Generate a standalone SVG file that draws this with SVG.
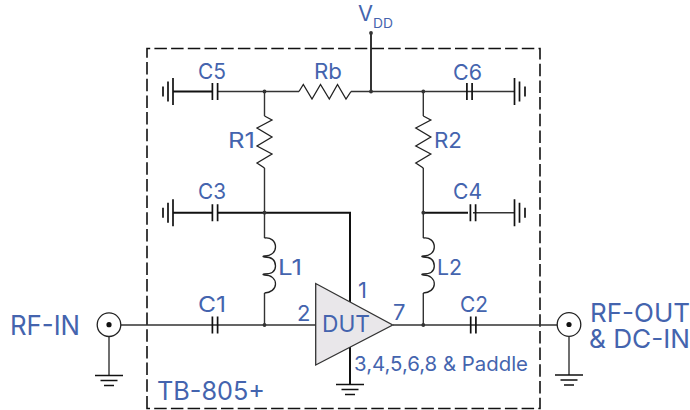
<svg xmlns="http://www.w3.org/2000/svg" width="690" height="410" viewBox="0 0 690 410">
<style>
text{font-family:Inter,"Noto Sans","Liberation Sans",sans-serif;fill:#4464ae;font-size:22px}
.w{fill:none;stroke:#333;stroke-width:1.4}
.t{fill:none;stroke:#111;stroke-width:2}
.z{fill:none;stroke:#222;stroke-width:1.3}
.b{fill:none;stroke:#111;stroke-width:1.700}
.d{fill:#333}
</style>
<defs>
<path id="zig" class="z" d="M0 0L7.500 4L-7.500 12L7.500 21L-7.500 30L7.500 38L-7.500 47L0 52"/>
<path id="coil" class="z" d="M0 0C6 -1 11 3 11 9C11 14 7 18 0 18C-2 18 -2 19 0 19C7 19 11 22 11 28C11 33 7 36 0 36C-2 36 -2 37 0 37C7 37 11 41 11 46C11 51 6 55 0 55"/>
<g id="gndL"><path class="b" d="M0 -13.500V13.500M-5 -10V10M-10 -5V5"/></g>
<g id="gndR"><path class="b" d="M0 -13.500V13.500M5 -10V10M10.500 -5V5"/></g>
<g id="gndD"><path class="b" d="M-14 0H14M-8.500 5H8.500M-5 10H5"/></g>
<path id="cap" class="b" d="M-2.600 -8.500V8.500M2.600 -8.500V8.500"/>
</defs>

<g id="testboard"><path d="M147 408.500V48.500H540V408.500Z" fill="none" stroke="#111" stroke-width="1.600" stroke-dasharray="12.500 4.200"/>
<text x="157" y="400" textLength="108" lengthAdjust="spacingAndGlyphs" style="font-size:25px">TB-805+</text></g>

<g id="connectors">
<path class="t" d="M173 91.500H212M173 212.700H212M217 212.700H350V302M350 347V385"/>
<path class="w" d="M217 91.500H299M351 91.500H515"/>
<path class="t" d="M371 33V91.500" style="stroke-width:1.700"/>
<path class="w" d="M264.500 91.500V116M264.500 168V238M264.500 293V325M423.300 91.500V116M423.300 168V238M423.300 293V325M473 212.700H514"/>
<path class="t" d="M423.300 212.700H468"/>
<path class="w" d="M121 325H316M393 325H557M109 337V375M569 337V375"/>
</g>

<g id="C5"><use href="#gndL" x="173" y="91.500"/><use href="#cap" x="215" y="91.500"/><text x="198" y="79" textLength="28" lengthAdjust="spacingAndGlyphs">C5</text></g>
<g id="C6"><use href="#cap" x="469.500" y="91.500"/><use href="#gndR" x="514.500" y="91.500"/><text x="453" y="80" textLength="29" lengthAdjust="spacingAndGlyphs">C6</text></g>
<g id="C3"><use href="#gndL" x="173" y="212.700"/><use href="#cap" x="215" y="212.700"/><text x="198" y="199" textLength="28" lengthAdjust="spacingAndGlyphs">C3</text></g>
<g id="C4"><use href="#cap" x="473" y="212.700"/><use href="#gndR" x="514.500" y="212.700"/><text x="453" y="199" textLength="29" lengthAdjust="spacingAndGlyphs">C4</text></g>
<g id="C1"><use href="#cap" x="215" y="325"/><text x="198" y="312" textLength="28" lengthAdjust="spacingAndGlyphs">C1</text></g>
<g id="C2"><use href="#cap" x="473.300" y="325"/><text x="460" y="312" textLength="28" lengthAdjust="spacingAndGlyphs">C2</text></g>
<g id="Rb"><path class="z" d="M299 91.500L303.300 84.500L312 99L320.500 84.500L329.300 99L337.500 84.500L346 99L351 91.500"/><text x="314" y="79" textLength="28" lengthAdjust="spacingAndGlyphs">Rb</text></g>
<g id="R1"><use href="#zig" x="264.500" y="116"/><text x="228" y="148" textLength="27" lengthAdjust="spacingAndGlyphs">R1</text></g>
<g id="R2"><use href="#zig" x="423.300" y="116"/><text x="434" y="148" textLength="28" lengthAdjust="spacingAndGlyphs">R2</text></g>
<g id="L1"><use href="#coil" x="264.500" y="238"/><text x="278" y="275" textLength="24" lengthAdjust="spacingAndGlyphs">L1</text></g>
<g id="L2"><use href="#coil" x="423.300" y="238"/><text x="437" y="275" textLength="25" lengthAdjust="spacingAndGlyphs">L2</text></g>
<g id="VDD"><circle class="d" cx="371" cy="33" r="1.900"/><text x="358" y="21" style="font-size:22px" textLength="15" lengthAdjust="spacingAndGlyphs">V</text><text x="373" y="28" style="font-size:13px" textLength="20" lengthAdjust="spacingAndGlyphs">DD</text></g>
<g id="junctions"><circle class="d" cx="264.500" cy="91.500" r="1.900"/><circle class="d" cx="371" cy="91.500" r="1.900"/><circle class="d" cx="423.300" cy="91.500" r="1.900"/><circle class="d" cx="264.500" cy="212.700" r="1.900"/><circle class="d" cx="423.300" cy="212.700" r="1.900"/><circle class="d" cx="264.500" cy="325" r="1.900"/><circle class="d" cx="423.300" cy="325" r="1.900"/></g>
<g id="DUT"><path d="M315.700 283.500V365L392.700 325Z" fill="#e9e7ea" stroke="#333" stroke-width="1.300"/>
<text x="322" y="332" style="font-size:23px" textLength="48" lengthAdjust="spacingAndGlyphs">DUT</text>
<text x="358" y="298">1</text><text x="297" y="321">2</text><text x="393" y="320">7</text>
<text x="354" y="371" style="font-size:20px" textLength="174" lengthAdjust="spacingAndGlyphs">3,4,5,6,8 &amp; Paddle</text>
<use href="#gndD" x="350" y="384.500"/></g>
<g id="RF-IN"><circle cx="109" cy="324.700" r="11.800" fill="#fff" stroke="#222" stroke-width="1.300"/><circle cx="109" cy="324.700" r="2.600" fill="#111"/><use href="#gndD" x="109" y="375.500"/><text x="10" y="335" style="font-size:27px" textLength="70" lengthAdjust="spacingAndGlyphs">RF-IN</text></g>
<g id="RF-OUT"><circle cx="569" cy="324.500" r="11.800" fill="#fff" stroke="#222" stroke-width="1.300"/><circle cx="569" cy="324.500" r="2.600" fill="#111"/><use href="#gndD" x="569" y="375"/><text x="590" y="322" style="font-size:26px" textLength="100" lengthAdjust="spacingAndGlyphs">RF-OUT</text><text x="589" y="347.500" style="font-size:26px" textLength="101" lengthAdjust="spacingAndGlyphs">&amp; DC-IN</text></g>
</svg>
